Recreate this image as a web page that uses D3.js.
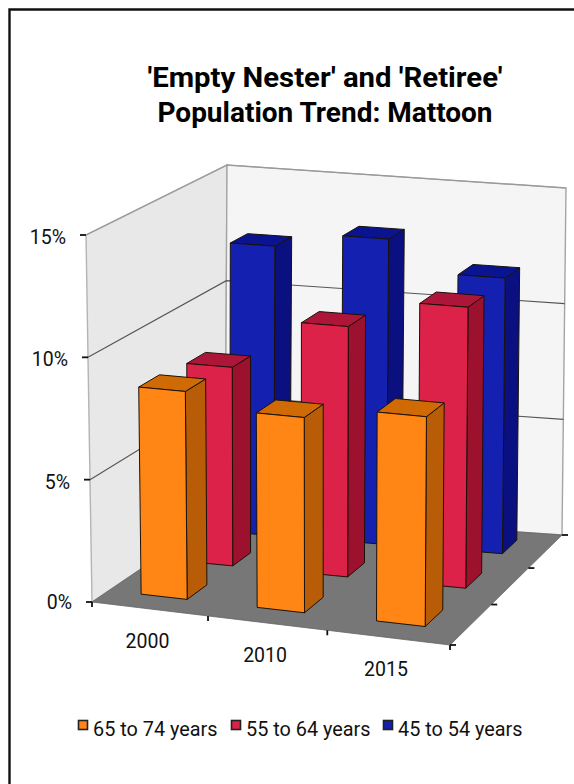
<!DOCTYPE html>
<html><head><meta charset="utf-8">
<script src="https://cdn.jsdelivr.net/npm/d3@7"></script>
<style>html,body{margin:0;padding:0;background:#fff}svg{display:block}text{font-family:Roboto,sans-serif;fill:#111}</style>
</head><body><svg id="c" width="574" height="784"></svg>
<script>
const categories = ["2000","2010","2015"];
const seriesNames = ["65 to 74 years","55 to 64 years","45 to 54 years"];
const values65to74 = [8.5,7.9,8.4];
const values55to64 = [8.3,10.4,11.6];
const values45to54 = [12.35,13.0,11.7];
const valueTicks = [0,5,10,15];
const tickLabels = ["0%","5%","10%","15%"];
const titleLines = ["'Empty Nester' and 'Retiree'","Population Trend: Mattoon"];
const seriesValues = [values65to74,values55to64,values45to54];
const palette = [
 {front:"#ff8514",side:"#b85c08",top:"#cf6a04"},
 {front:"#dc2248",side:"#9c122e",top:"#ad1638"},
 {front:"#1420b0",side:"#0a1080",top:"#0a1490"}];

// Bilinear box with a light perspective warp along each floor axis
const corners={floor:[[92,602],[450,645],[562,535],[225,512]],ceil:[[86,235],[453,265],[566,188],[227,165]]};
const warp=(t,r)=>t/(t+(1-t)*r);
function quad(q,u,v){
 const a=warp(u,1.043),b=warp(v,.859);
 return [0,1].map(k=>q[0][k]*(1-a)*(1-b)+q[1][k]*a*(1-b)+q[2][k]*a*b+q[3][k]*(1-a)*b);
}
const uBand=d3.scaleBand().domain(categories).range([-.006,.994]).paddingInner(.6).paddingOuter(.3);
const vBand=d3.scaleBand().domain(seriesNames).range([.015,1.015]).paddingInner(.58).paddingOuter(.29);
const wScale=d3.scaleLinear().domain([0,15]).range([0,1]);
function P(u,v,val){const a=quad(corners.floor,u,v),b=quad(corners.ceil,u,v),t=wScale(val);return [a[0]+(b[0]-a[0])*t,a[1]+(b[1]-a[1])*t];}
const path=pts=>d3.line()(pts)+"Z";

const svg=d3.select("#c");
// frame
svg.append("path").attr("d","M9.5,784V9.5H574").attr("fill","none").attr("stroke","#111").attr("stroke-width",2.4);
// title
const titleWidths=[355,335];
svg.selectAll("text.t").data(titleLines).join("text").attr("class","t")
 .attr("x",325).attr("y",(d,i)=>87+i*35).attr("text-anchor","middle")
 .attr("font-size",28).attr("font-weight",700).style("fill","#000")
 .attr("textLength",(d,i)=>titleWidths[i]).attr("lengthAdjust","spacingAndGlyphs").text(d=>d);
// walls
svg.append("path").attr("d",path([P(0,0,0),P(0,0,15),P(0,1,15),P(0,1,0)])).attr("fill","#e8e8e8").attr("stroke","#b4b4b4").attr("stroke-width",1.4);
svg.append("path").attr("d",path([P(0,1,0),P(0,1,15),P(1,1,15),P(1,1,0)])).attr("fill","#f5f5f5").attr("stroke","#a4a4a4").attr("stroke-width",1.4);
svg.append("path").attr("d",path([P(0,0,0),P(1,0,0),P(1,1,0),P(0,1,0)])).attr("fill","#777").attr("stroke","#666").attr("stroke-width",.8);
// grid
valueTicks.filter(d=>d>0).forEach(d=>{
 svg.append("path").attr("d",d3.line()([P(0,0,d),P(0,1,d),P(1,1,d)])).attr("fill","none").attr("stroke",d===15?"#999":"#555").attr("stroke-width",1.1);
});
// bars, back to front
d3.range(seriesNames.length).reverse().forEach(si=>{
 const s=seriesNames[si],v0=vBand(s),v1=v0+vBand.bandwidth(),col=palette[si];
 categories.forEach((c,ci)=>{
  const u0=uBand(c),u1=u0+uBand.bandwidth(),h=seriesValues[si][ci];
  const g=svg.append("g").attr("stroke","#1a1208").attr("stroke-width",1).attr("stroke-linejoin","round");
  g.append("path").attr("d",path([P(u1,v0,0),P(u1,v1,0),P(u1,v1,h),P(u1,v0,h)])).attr("fill",col.side);
  g.append("path").attr("d",path([P(u0,v0,h),P(u1,v0,h),P(u1,v1,h),P(u0,v1,h)])).attr("fill",col.top);
  g.append("path").attr("d",path([P(u0,v0,0),P(u1,v0,0),P(u1,v0,h),P(u0,v0,h)])).attr("fill",col.front);
 });
});
// axes ticks
const tick=(x1,y1,x2,y2)=>svg.append("line").attr("x1",x1).attr("y1",y1).attr("x2",x2).attr("y2",y2).attr("stroke","#111").attr("stroke-width",1.8);
valueTicks.forEach((d,i)=>{
 const [x,y]=P(0,0,d);
 tick(x-6,y,x,y);
 svg.append("text").attr("x",x-20).attr("y",y+(d===0?7:9)).attr("text-anchor","end").attr("font-size",19.5).text(tickLabels[i]);
});
[0,1/3,2/3,1].forEach(u=>{const [x,y]=quad(corners.floor,u,0);tick(x,y,x,y+5);});
[0,1/3,2/3,1].forEach(v=>{const [x,y]=quad(corners.floor,1,v);tick(x,y,x+6,y);});
categories.forEach(c=>{
 const [x,y]=quad(corners.floor,uBand(c)+uBand.bandwidth()/2,0);
 svg.append("text").attr("x",x).attr("y",y+39).attr("text-anchor","middle").attr("font-size",19.5).text(c);
});
// legend
const legendX=[78,231,383];
seriesNames.forEach((s,i)=>{
 svg.append("rect").attr("x",legendX[i]+.5).attr("y",720.5).attr("width",9).attr("height",9).attr("fill",palette[i].front).attr("stroke","#222").attr("stroke-width",1.6);
 svg.append("text").attr("x",legendX[i]+15).attr("y",736).attr("font-size",19.5).attr("textLength",124.5).attr("lengthAdjust","spacingAndGlyphs").text(s);
});
</script></body></html>
